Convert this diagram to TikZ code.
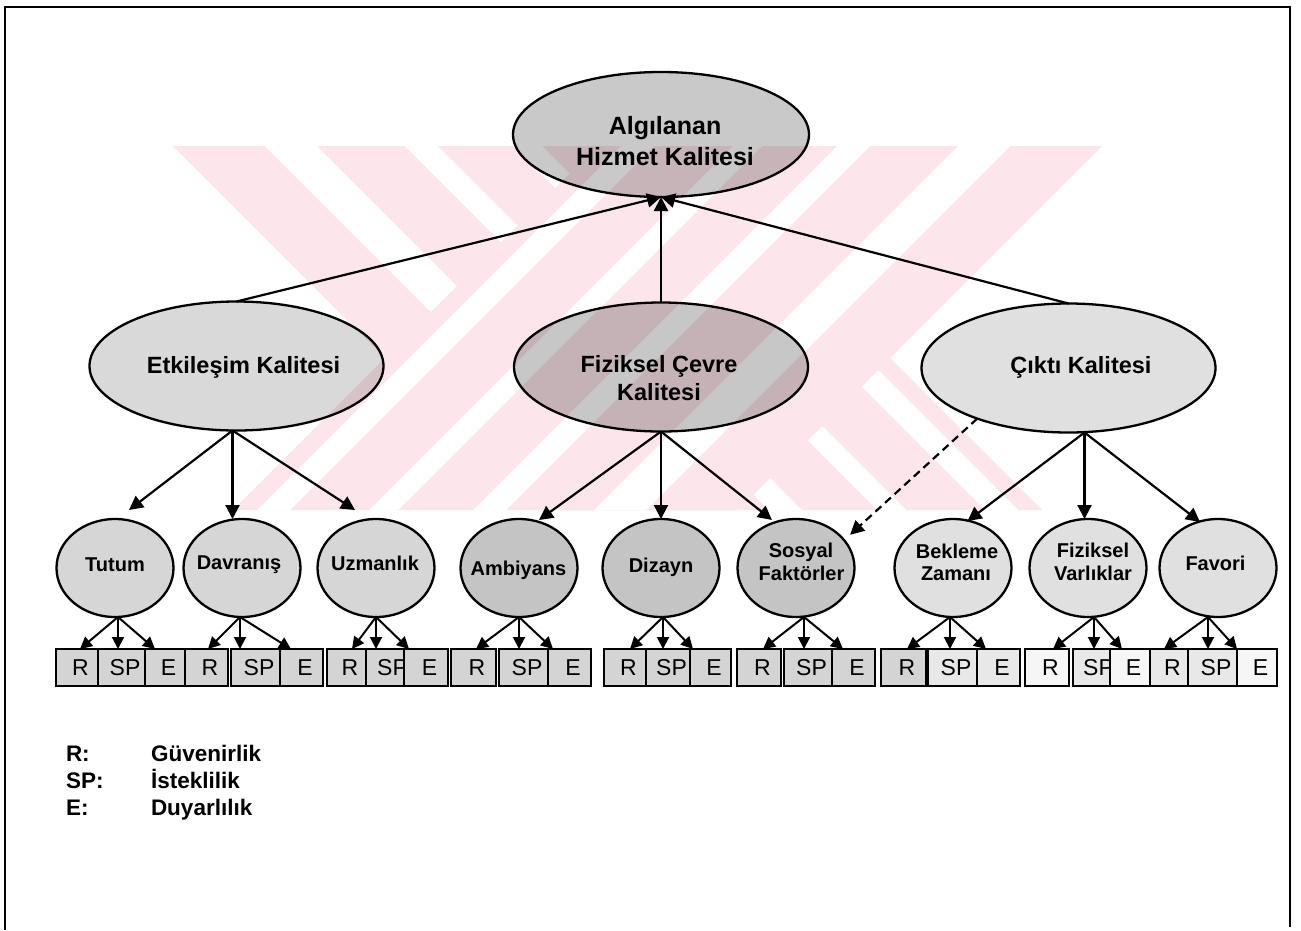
\documentclass[tikz,border=0pt]{standalone}
\usepackage{fontspec}
\setmainfont{Liberation Sans}
\usetikzlibrary{arrows.meta,calc,shapes.geometric}
\definecolor{wmark}{RGB}{252,229,235}
\definecolor{boxA}{RGB}{212,212,212}
\definecolor{boxB}{RGB}{232,232,232}
\definecolor{boxC}{RGB}{246,246,246}
\begin{document}
\begin{tikzpicture}[x=1pt,y=-1pt,
  every node/.style={inner sep=0pt, outer sep=0pt},
  ellbase/.style={ellipse, draw=black, line width=2.3pt, fill=black},
  topell/.style={ellbase, minimum width=296pt, minimum height=125pt},
  midell/.style={ellbase, minimum width=294pt, minimum height=129pt},
  lowell/.style={ellbase, minimum width=117pt, minimum height=98pt},
  toptxt/.style={anchor=base, font=\fontsize{25}{30}\selectfont\bfseries},
  midtxt/.style={anchor=base, font=\fontsize{23.5}{28}\selectfont\bfseries},
  lowtxt/.style={anchor=base, font=\fontsize{20}{24}\selectfont\bfseries},
  ibox/.style={draw=black, line width=2pt, minimum height=37pt, anchor=west,
    font=\fontsize{23}{23}\selectfont, execute at begin node={\hspace*{7pt}}},
  legtxt/.style={anchor=base west, font=\fontsize{22.5}{26}\selectfont\bfseries},
  bigarr/.style={line width=2.2pt, -{Triangle[length=14pt,width=14pt]}},
  smallarr/.style={line width=2pt, -{Triangle[length=12pt,width=12pt]}},
  dasharr/.style={bigarr, dash pattern=on 8pt off 5pt},
  gapfill/.style={fill=white},
]
\useasboundingbox (0,0) rectangle (1301,930);
\fill[white] (0,0) rectangle (1301,930);

% pale background emblem: two crossing families of stripes
\begin{scope}
  \clip (160,146) rectangle (1115,510);
  % stripes running down to the right
  \fill[wmark] (173,146) -- (678,146) -- (1042,510) -- (537,510) -- cycle;
  \foreach \a/\b in {265/317, 405/438, 513/542, 621/654}
    \fill[gapfill] (\a,146) -- (\b,146) -- (\b+364,510) -- (\a+364,510) -- cycle;
  % stripes running down to the left, lying over the others
  \fill[wmark] (233,510) -- (738,510) -- (1102,146) -- (597,146) -- cycle;
  \foreach \c/\d in {257/290, 369/398, 473/506, 594/646}
    \fill[gapfill] (\c,510) -- (\d,510) -- (\d+364,146) -- (\c+364,146) -- cycle;
\end{scope}

% frame
\draw[line width=2pt] (5,930) -- (5,7) -- (1290,7) -- (1290,927);

% top level
\node[topell, fill opacity=0.21] (top) at (661,134.5) {};
\node[toptxt] (topa) at (665,134) {Algılanan};
\node[toptxt] (topb) at (665,165) {Hizmet Kalitesi};

% second level
\node[midell, fill opacity=0.15] (etk) at (236.5,366) {};
\node[midell, fill opacity=0.22] (fiz) at (661,367) {};
\node[midell, fill opacity=0.12] (cik) at (1068.5,368) {};
\node[midtxt] (etkt) at (243.5,373.5) {Etkileşim Kalitesi};
\node[midtxt] (fizt) at (659,372.5) {Fiziksel Çevre};
\node[midtxt] (fizu) at (659,400.5) {Kalitesi};
\node[midtxt] (cikt) at (1081,373.5) {Çıktı Kalitesi};

% third level
\node[lowell, fill opacity=0.16] (tut) at (115,568) {};
\node[lowell, fill opacity=0.16] (dav) at (242,568) {};
\node[lowell, fill opacity=0.16] (uzm) at (376,568) {};
\node[lowell, fill opacity=0.23] (amb) at (519,568) {};
\node[lowell, fill opacity=0.23] (diz) at (661,568) {};
\node[lowell, fill opacity=0.23] (sos) at (796,568) {};
\node[lowell, fill opacity=0.12] (bek) at (953,568) {};
\node[lowell, fill opacity=0.12] (fva) at (1088,568) {};
\node[lowell, fill opacity=0.12] (fav) at (1218,568) {};
\node[lowtxt] (tutt) at (115,571.5) {Tutum};
\node[lowtxt] (davt) at (239,569) {Davranış};
\node[lowtxt] (uzmt) at (375,570) {Uzmanlık};
\node[lowtxt] (ambt) at (518.5,575.5) {Ambiyans};
\node[lowtxt] (dizt) at (661,572) {Dizayn};
\node[lowtxt] (sosa) at (801,557) {Sosyal};
\node[lowtxt] (sosb) at (801.5,580) {Faktörler};
\node[lowtxt] (beka) at (957,558) {Bekleme};
\node[lowtxt] (bekb) at (956,580) {Zamanı};
\node[lowtxt] (fvaa) at (1093,557) {Fiziksel};
\node[lowtxt] (fvab) at (1093,580) {Varlıklar};
\node[lowtxt] (favt) at (1215.5,570) {Favori};

% indicator boxes
\node[ibox, fill=boxA, minimum width=42pt] (tutR) at (56,667.5) {R};
\node[ibox, fill=boxA, minimum width=47pt] (tutS) at (98,667.5) {SP};
\node[ibox, fill=boxA, minimum width=40pt] (tutE) at (145,667.5) {E};
\node[ibox, fill=boxA, minimum width=43pt] (davR) at (185,667.5) {R};
\node[ibox, fill=boxA, minimum width=49pt] (davS) at (231,667.5) {SP};
\node[ibox, fill=boxA, minimum width=43pt] (davE) at (280,667.5) {E};
\node[ibox, fill=boxA, minimum width=39pt] (uzmR) at (327,667.5) {R};
\node[ibox, fill=boxA, minimum width=46pt] (uzmS) at (366,667.5) {SP};
\node[ibox, fill=boxA, minimum width=44pt] (uzmE) at (404,667.5) {E};
\node[ibox, fill=boxA, minimum width=45pt] (ambR) at (451,667.5) {R};
\node[ibox, fill=boxA, minimum width=49pt] (ambS) at (499,667.5) {SP};
\node[ibox, fill=boxA, minimum width=43pt] (ambE) at (548,667.5) {E};
\node[ibox, fill=boxA, minimum width=42pt] (dizR) at (604,667.5) {R};
\node[ibox, fill=boxA, minimum width=44pt] (dizS) at (646,667.5) {SP};
\node[ibox, fill=boxA, minimum width=41pt] (dizE) at (690,667.5) {E};
\node[ibox, fill=boxA, minimum width=44pt] (sosR) at (737,667.5) {R};
\node[ibox, fill=boxA, minimum width=48pt] (sosS) at (784,667.5) {SP};
\node[ibox, fill=boxA, minimum width=43pt] (sosE) at (832,667.5) {E};
\node[ibox, fill=boxA, minimum width=45pt] (bekR) at (881,667.5) {R};
\node[ibox, fill=boxB, minimum width=49pt] (bekS) at (928,667.5) {SP};
\node[ibox, fill=boxB, minimum width=43pt] (bekE) at (977,667.5) {E};
\node[ibox, fill=boxC, minimum width=44pt] (fvaR) at (1025,667.5) {R};
\node[ibox, fill=boxB, minimum width=44pt] (fvaS) at (1073,667.5) {SP};
\node[ibox, fill=boxC, minimum width=40pt] (fvaE) at (1110,667.5) {E};
\node[ibox, fill=boxB, minimum width=38pt] (favR) at (1150,667.5) {R};
\node[ibox, fill=boxB, minimum width=49pt] (favS) at (1188,667.5) {SP};
\node[ibox, fill=boxC, minimum width=40pt] (favE) at (1237,667.5) {E};

% second level to top
\draw[bigarr] (etk.north) -- (top.south);
\draw[bigarr] (fiz.north) -- (top.south);
\draw[bigarr] (cik.north) -- (top.south);

% second level to third level
\draw[bigarr] ([xshift=-4pt]etk.south) -- ($(tut.north)+(14,-9)$);
\draw[bigarr] ([xshift=-4pt]etk.south) -- ([xshift=-4pt]etk.south |- dav.north);
\draw[bigarr] ([xshift=-4pt]etk.south) -- ($(uzm.north)+(-21,-9)$);
\draw[bigarr] (fiz.south) -- ($(amb.north)+(20,1)$);
\draw[bigarr] (fiz.south) -- (fiz.south |- diz.north);
\draw[bigarr] (fiz.south) -- ($(sos.north)+(-24,1)$);
\draw[bigarr] ([xshift=16pt]cik.south) -- ($(bek.north)+(14.5,2)$);
\draw[bigarr] ([xshift=16pt]cik.south) -- ([xshift=16pt]cik.south |- fva.north);
\draw[bigarr] ([xshift=16pt]cik.south) -- ($(fav.north)+(-18,3)$);
\draw[dasharr, shorten >=8pt] (cik.209) -- (sos.30);

% third level to indicators
\draw[smallarr] ([xshift=3pt]tut.south) -- ([xshift=3pt]tutR.north);
\draw[smallarr] ([xshift=3pt]tut.south) -- ([xshift=3pt]tut.south |- tutS.north);
\draw[smallarr] ([xshift=3pt]tut.south) -- ([xshift=-10pt]tutE.north);
\draw[smallarr] ([xshift=-2pt]dav.south) -- ([xshift=1.5pt]davR.north);
\draw[smallarr] ([xshift=-2pt]dav.south) -- ([xshift=-2pt]dav.south |- davS.north);
\draw[smallarr] ([xshift=-2pt]dav.south) -- ([xshift=-10.5pt]davE.north);
\draw[smallarr] (uzm.south) -- ([xshift=5.5pt]uzmR.north);
\draw[smallarr] (uzm.south) -- (uzm.south |- uzmS.north);
\draw[smallarr] (uzm.south) -- ([xshift=-17pt]uzmE.north);
\draw[smallarr] (amb.south) -- ([xshift=2.5pt]ambR.north);
\draw[smallarr] (amb.south) -- (amb.south |- ambS.north);
\draw[smallarr] (amb.south) -- ([xshift=-16.5pt]ambE.north);
\draw[smallarr] ([xshift=2pt]diz.south) -- ([xshift=5pt]dizR.north);
\draw[smallarr] ([xshift=2pt]diz.south) -- ([xshift=2pt]diz.south |- dizS.north);
\draw[smallarr] ([xshift=2pt]diz.south) -- ([xshift=-17.5pt]dizE.north);
\draw[smallarr] ([xshift=8pt]sos.south) -- ([xshift=4pt]sosR.north);
\draw[smallarr] ([xshift=8pt]sos.south) -- ([xshift=8pt]sos.south |- sosS.north);
\draw[smallarr] ([xshift=8pt]sos.south) -- ([xshift=-10.5pt]sosE.north);
\draw[smallarr] ([xshift=-3pt]bek.south) -- ([xshift=3.5pt]bekR.north);
\draw[smallarr] ([xshift=-3pt]bek.south) -- ([xshift=-3pt]bek.south |- bekS.north);
\draw[smallarr] ([xshift=-3pt]bek.south) -- ([xshift=-12.5pt]bekE.north);
\draw[smallarr] ([xshift=6pt]fva.south) -- ([xshift=6pt]fvaR.north);
\draw[smallarr] ([xshift=6pt]fva.south) -- ([xshift=6pt]fva.south |- fvaS.north);
\draw[smallarr] ([xshift=6pt]fva.south) -- ([xshift=-8pt]fvaE.north);
\draw[smallarr] ([xshift=-10pt]fav.south) -- ([xshift=-5pt]favR.north);
\draw[smallarr] ([xshift=-10pt]fav.south) -- ([xshift=-10pt]fav.south |- favS.north);
\draw[smallarr] ([xshift=-10pt]fav.south) -- ([xshift=-20pt]favE.north);

% legend
\node[legtxt] (lgr) at (66,761) {R:};
\node[legtxt] (lgsp) at (66,788) {SP:};
\node[legtxt] (lge) at (66,815) {E:};
\node[legtxt] (lgrv) at (151,761) {Güvenirlik};
\node[legtxt] (lgspv) at (151,788) {İsteklilik};
\node[legtxt] (lgev) at (151,815) {Duyarlılık};
\end{tikzpicture}
\end{document}
